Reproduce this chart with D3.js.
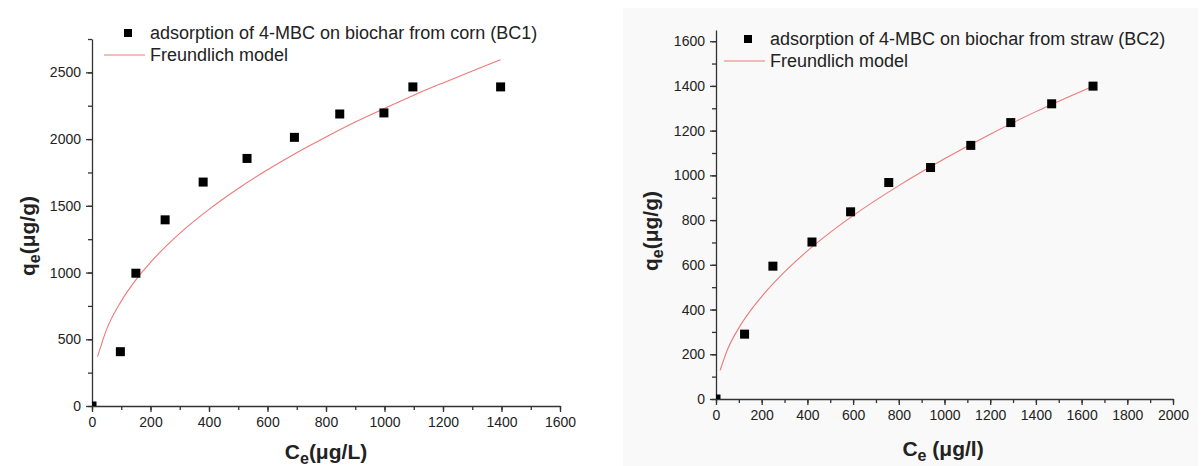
<!DOCTYPE html>
<html>
<head>
<meta charset="utf-8">
<script src="https://cdn.jsdelivr.net/npm/d3@7"></script>
<style>
  body { margin: 0; background: #fff; }
  svg { display: block; font-family: "Liberation Sans", Arial, sans-serif; }
  .axis path, .axis line { stroke: #333; stroke-width: 1.3; }
  .axis text { font-size: 14px; fill: #222; }
</style>
</head>
<body>
<div id="chart"></div>
<script>
// BC1 (corn) measured points
const ceCorn = [0, 97, 150, 250, 380, 530, 692, 847, 998, 1097, 1397];
const qeCorn = [0, 407, 995, 1395, 1678, 1855, 2013, 2188, 2196, 2391, 2391];
// BC1 Freundlich curve
const fitCeCorn = [19, 50, 100, 150, 200, 300, 400, 500, 600, 700, 800, 900, 1000, 1100, 1200, 1300, 1397];
const fitQeCorn = [370, 574, 786, 945, 1076, 1293, 1473, 1630, 1770, 1898, 2016, 2128, 2230, 2329, 2421, 2510, 2595];

// BC2 (straw) measured points
const ceStraw = [0, 125, 249, 420, 589, 756, 939, 1115, 1290, 1469, 1650];
const qeStraw = [0, 290, 594, 702, 837, 968, 1035, 1134, 1236, 1320, 1399];
// BC2 Freundlich curve
const fitCeStraw = [18, 50, 100, 150, 200, 300, 400, 500, 600, 800, 1000, 1200, 1400, 1650];
const fitQeStraw = [128, 220, 318, 394, 458, 568, 662, 745, 820, 954, 1074, 1184, 1285, 1399];

const legendCorn = ["adsorption of 4-MBC on biochar from corn (BC1)", "Freundlich model"];
const legendStraw = ["adsorption of 4-MBC on biochar from straw (BC2)", "Freundlich model"];

let svg = d3.select("#chart").append("svg")
  .attr("width", 1203)
  .attr("height", 466);

// faint grey backdrop of the second picture
svg.append("rect")
  .attr("x", 623).attr("y", 8)
  .attr("width", 575).attr("height", 458)
  .attr("fill", "#f9f9f9");

function drawPanel(cfg) {
  let x = d3.scaleLinear().domain(cfg.xDomain).range(cfg.xRange);
  let y = d3.scaleLinear().domain(cfg.yDomain).range(cfg.yRange);
  let g = svg.append("g");

  let clipId = "clip-" + cfg.id;
  g.append("clipPath").attr("id", clipId)
    .append("rect")
    .attr("x", cfg.xRange[0]).attr("y", cfg.yRange[1])
    .attr("width", cfg.xRange[1] - cfg.xRange[0])
    .attr("height", cfg.yRange[0] - cfg.yRange[1]);

  // minor ticks
  g.append("g").attr("class", "axis")
    .attr("transform", "translate(0," + cfg.yRange[0] + ")")
    .call(d3.axisBottom(x).tickValues(d3.range(0, cfg.xDomain[1] + 1, cfg.xMinor)).tickSize(4).tickFormat(""))
    .select(".domain").remove();
  g.append("g").attr("class", "axis")
    .attr("transform", "translate(" + cfg.xRange[0] + ",0)")
    .call(d3.axisLeft(y).tickValues(d3.range(0, cfg.yDomain[1] + 1, cfg.yMinor)).tickSize(4).tickFormat(""))
    .select(".domain").remove();

  // major ticks + labels
  g.append("g").attr("class", "axis")
    .attr("transform", "translate(0," + cfg.yRange[0] + ")")
    .call(d3.axisBottom(x).tickValues(d3.range(0, cfg.xDomain[1] + 1, cfg.xMajor))
      .tickFormat(d3.format("d")).tickSize(6).tickSizeOuter(0).tickPadding(5));
  g.append("g").attr("class", "axis")
    .attr("transform", "translate(" + cfg.xRange[0] + ",0)")
    .call(d3.axisLeft(y).tickValues(d3.range(0, cfg.yDomain[1] + 1, cfg.yMajor))
      .tickFormat(d3.format("d")).tickSize(6).tickSizeOuter(0).tickPadding(5));

  // fitted curve
  let line = d3.line().x(d => x(d[0])).y(d => y(d[1])).curve(d3.curveMonotoneX);
  g.append("path")
    .datum(d3.zip(cfg.fitCe, cfg.fitQe))
    .attr("d", line)
    .attr("fill", "none")
    .attr("stroke", "#f07878")
    .attr("stroke-width", 1.1);

  // measured points
  g.append("g").attr("clip-path", "url(#" + clipId + ")")
    .selectAll("rect")
    .data(d3.zip(cfg.ce, cfg.qe))
    .enter().append("rect")
    .attr("x", d => x(d[0]) - 4.5)
    .attr("y", d => y(d[1]) - 4.5)
    .attr("width", 9).attr("height", 9)
    .attr("fill", "#000");

  // legend
  let lg = g.append("g").attr("transform", "translate(" + cfg.legend[0] + "," + cfg.legend[1] + ")");
  lg.append("rect").attr("x", -26).attr("y", -4).attr("width", 8).attr("height", 8).attr("fill", "#000");
  lg.append("line").attr("x1", -46).attr("x2", -5).attr("y1", 22).attr("y2", 22)
    .attr("stroke", "#f07878").attr("stroke-width", 1.1);
  lg.selectAll("text").data(cfg.legendText).enter().append("text")
    .attr("x", 0).attr("y", (d, i) => i * 22)
    .attr("dy", "0.35em")
    .style("font-size", "18px").style("fill", "#222")
    .text(d => d);

  // axis titles
  let xt = g.append("text")
    .attr("x", cfg.xTitle[0]).attr("y", cfg.xTitle[1])
    .attr("text-anchor", "middle")
    .style("font-size", "21px").style("font-weight", "bold").style("fill", "#222");
  xt.append("tspan").text("C");
  xt.append("tspan").attr("dy", 5).style("font-size", "16px").text("e");
  xt.append("tspan").attr("dy", -5).text(cfg.xUnit);

  let yt = g.append("text")
    .attr("transform", "translate(" + cfg.yTitle[0] + "," + cfg.yTitle[1] + ") rotate(-90)")
    .attr("text-anchor", "middle")
    .style("font-size", "21px").style("font-weight", "bold").style("fill", "#222");
  yt.append("tspan").text("q");
  yt.append("tspan").attr("dy", 5).style("font-size", "16px").text("e");
  yt.append("tspan").attr("dy", -5).text(cfg.yUnit);
}

drawPanel({
  id: "corn",
  xDomain: [0, 1600], xRange: [92, 560], xMajor: 200, xMinor: 100,
  yDomain: [0, 2750], yRange: [406, 39], yMajor: 500, yMinor: 250,
  ce: ceCorn, qe: qeCorn, fitCe: fitCeCorn, fitQe: fitQeCorn,
  legend: [150, 33], legendText: legendCorn,
  xTitle: [326, 459], xUnit: "(\u03bcg/L)",
  yTitle: [35, 236], yUnit: "(\u03bcg/g)"
});

drawPanel({
  id: "straw",
  xDomain: [0, 2000], xRange: [716, 1173], xMajor: 200, xMinor: 100,
  yDomain: [0, 1650], yRange: [399, 30], yMajor: 200, yMinor: 100,
  ce: ceStraw, qe: qeStraw, fitCe: fitCeStraw, fitQe: fitQeStraw,
  legend: [770, 39], legendText: legendStraw,
  xTitle: [943, 456], xUnit: " (\u03bcg/l)",
  yTitle: [658, 231], yUnit: "(\u03bcg/g)"
});
</script>
</body>
</html>
